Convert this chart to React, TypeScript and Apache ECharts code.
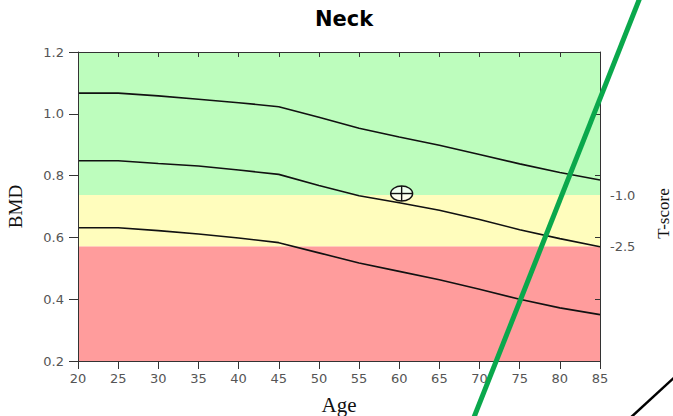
import React, { useEffect, useRef } from "react";
import * as echarts from "echarts";

const ages = [20, 25, 30, 35, 40, 45, 50, 55, 60, 65, 70, 75, 80, 85];
const meanCurve = [1.067, 1.067, 1.058, 1.047, 1.036, 1.023, 0.989, 0.953, 0.925, 0.898, 0.868, 0.838, 0.81, 0.786];
const middleCurve = [0.848, 0.848, 0.839, 0.831, 0.818, 0.804, 0.768, 0.735, 0.712, 0.688, 0.658, 0.625, 0.596, 0.57];
const lowerCurve = [0.631, 0.631, 0.622, 0.611, 0.598, 0.583, 0.55, 0.517, 0.49, 0.463, 0.432, 0.4, 0.372, 0.35];
const patientPoint = [60.3, 0.742];
const tScoreLabels = [-1.0, -2.5];
const tMinus1Bmd = 0.737;
const tMinus25Bmd = 0.5706;
const bmdMin = 0.2;
const bmdMax = 1.2;
const ageMin = 20;
const ageMax = 85;

const sd = (tMinus1Bmd - tMinus25Bmd) / 1.5;
const refBmd = tMinus1Bmd + sd;
const toT = (b: number) => (b - refBmd) / sd;

const tickFont = { fontFamily: "DejaVu Sans", fontSize: 13, color: "#555" };
const axisLine = { show: true, onZero: false, lineStyle: { color: "#333", width: 1 } };

export default function App() {
  const ref = useRef<HTMLDivElement>(null);
  useEffect(() => {
    const chart = echarts.init(ref.current!, null, { renderer: "svg" });
    const zip = (ys: number[]) => ages.map((a, i) => [a, ys[i]]);
    const lineStyle = { color: "#111", width: 1.6 };
    chart.setOption({
      animation: false,
      title: {
        text: "Neck",
        left: 339,
        textAlign: "center",
        top: 3,
        textStyle: { fontFamily: "DejaVu Sans", fontWeight: "bold", fontSize: 21, color: "#000" },
      },
      grid: { left: 78, right: 73, top: 52, bottom: 55, outerBoundsMode: "none", containLabel: false },
      xAxis: [
        {
          type: "value",
          position: "bottom",
          min: ageMin,
          max: ageMax,
          interval: 5,
          z: 10,
          axisLine,
          axisTick: { show: true, length: 8, lineStyle: { color: "#333" } },
          axisLabel: { ...tickFont, margin: 11 },
          splitLine: { show: false },
          name: "Age",
          nameLocation: "middle",
          nameGap: 33,
          nameTextStyle: { fontFamily: "Liberation Serif", fontSize: 21, color: "#111" },
        },
        {
          type: "value",
          position: "top",
          min: ageMin,
          max: ageMax,
          interval: 5,
          z: 10,
          axisLine,
          axisTick: { show: true, inside: true, length: 5, lineStyle: { color: "#333" } },
          axisLabel: { show: false },
          splitLine: { show: false },
        },
      ],
      yAxis: [
        {
          type: "value",
          position: "left",
          min: bmdMin,
          max: bmdMax,
          interval: 0.2,
          z: 10,
          axisLine,
          axisTick: { show: true, length: 9, lineStyle: { color: "#333" } },
          axisLabel: { ...tickFont, margin: 14, formatter: (v: number) => v.toFixed(1) },
          splitLine: { show: false },
          name: "BMD",
          nameLocation: "middle",
          nameRotate: 90,
          nameGap: 53,
          nameTextStyle: { fontFamily: "Liberation Serif", fontSize: 19, color: "#111" },
        },
        {
          type: "value",
          position: "right",
          min: bmdMin,
          max: bmdMax,
          interval: 0.2,
          z: 10,
          axisLine,
          axisTick: { show: true, inside: true, length: 5, lineStyle: { color: "#333" } },
          axisLabel: { show: false },
          splitLine: { show: false },
        },
        {
          type: "value",
          position: "right",
          min: toT(bmdMin),
          max: toT(bmdMax),
          z: 10,
          axisLine: { show: false, onZero: false },
          axisTick: { show: false },
          axisLabel: {
            ...tickFont,
            margin: 10,
            customValues: tScoreLabels,
            formatter: (v: number) => v.toFixed(1),
          },
          splitLine: { show: false },
          name: "T-score",
          nameLocation: "middle",
          nameRotate: 90,
          nameGap: 55,
          nameTextStyle: { fontFamily: "Liberation Serif", fontSize: 17, color: "#111", padding: [0, 14, 0, 0] },
        },
      ],
      series: [
        {
          type: "line",
          xAxisIndex: 0,
          yAxisIndex: 0,
          data: zip(meanCurve),
          showSymbol: false,
          lineStyle,
          z: 5,
          markArea: {
            silent: true,
            z: 1,
            data: [
              [{ yAxis: tMinus1Bmd, itemStyle: { color: "#BDFDBD" } }, { yAxis: bmdMax }],
              [{ yAxis: tMinus25Bmd, itemStyle: { color: "#FFFDBD" } }, { yAxis: tMinus1Bmd }],
              [{ yAxis: bmdMin, itemStyle: { color: "#FF9C9C" } }, { yAxis: tMinus25Bmd }],
            ],
          },
        },
        { type: "line", xAxisIndex: 0, yAxisIndex: 0, data: zip(middleCurve), showSymbol: false, lineStyle, z: 5 },
        { type: "line", xAxisIndex: 0, yAxisIndex: 0, data: zip(lowerCurve), showSymbol: false, lineStyle, z: 5 },
        {
          type: "custom",
          xAxisIndex: 0,
          yAxisIndex: 0,
          z: 6,
          data: [patientPoint],
          renderItem: (params: any, api: any) => {
            const p = api.coord([api.value(0), api.value(1)]);
            const rx = 11;
            const ry = 7.5;
            const st = { stroke: "#111", lineWidth: 1.4 };
            return {
              type: "group",
              children: [
                { type: "ellipse", shape: { cx: p[0], cy: p[1], rx, ry }, style: { fill: "rgba(255,255,255,0.75)", ...st } },
                { type: "line", shape: { x1: p[0], y1: p[1] - ry, x2: p[0], y2: p[1] + ry }, style: st },
                { type: "line", shape: { x1: p[0] - rx, y1: p[1], x2: p[0] + rx, y2: p[1] }, style: st },
              ],
            };
          },
        },
      ],
      graphic: [
        {
          type: "line",
          z: 100,
          shape: { x1: 641, y1: -5, x2: 472.5, y2: 421 },
          style: { stroke: "#0AA84C", lineWidth: 5 },
        },
        {
          type: "line",
          z: 100,
          shape: { x1: 628, y1: 420, x2: 678, y2: 374 },
          style: { stroke: "#000", lineWidth: 2.5 },
        },
      ],
    });
    return () => chart.dispose();
  }, []);
  return <div ref={ref} style={{ position: "absolute", left: 0, top: 0, width: 673, height: 416 }} />;
}
